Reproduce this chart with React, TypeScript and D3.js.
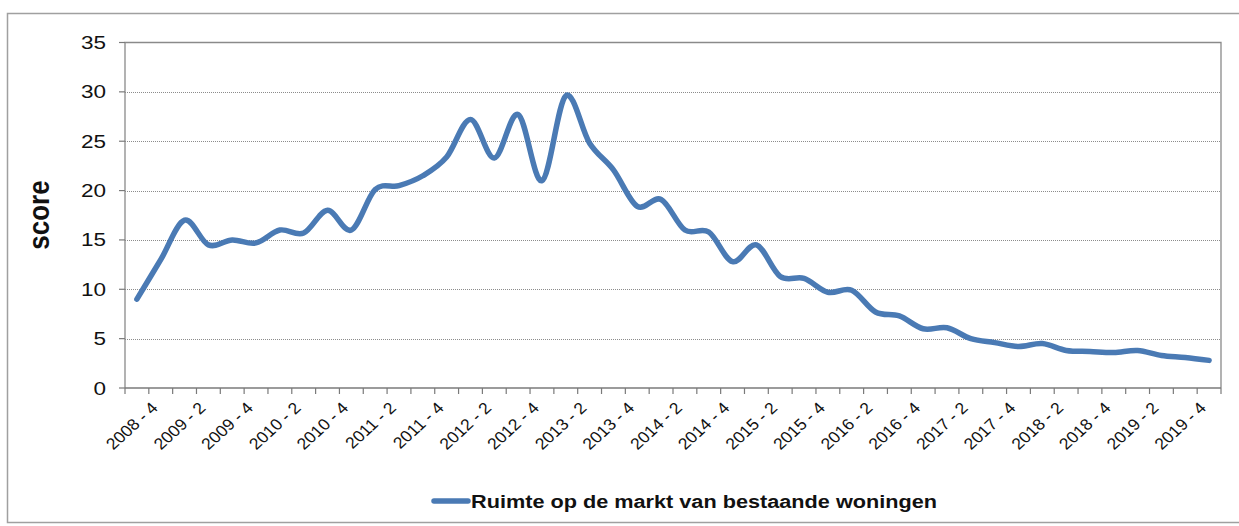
import * as d3 from 'd3';

const width = 1239;
const height = 526;
const plot = { left: 125, right: 1221, top: 42.5, bottom: 388 };

// quarters, 2008 Q4 .. 2020 Q1
const categories = [
  '2008 - 4',
  '2009 - 1', '2009 - 2', '2009 - 3', '2009 - 4',
  '2010 - 1', '2010 - 2', '2010 - 3', '2010 - 4',
  '2011 - 1', '2011 - 2', '2011 - 3', '2011 - 4',
  '2012 - 1', '2012 - 2', '2012 - 3', '2012 - 4',
  '2013 - 1', '2013 - 2', '2013 - 3', '2013 - 4',
  '2014 - 1', '2014 - 2', '2014 - 3', '2014 - 4',
  '2015 - 1', '2015 - 2', '2015 - 3', '2015 - 4',
  '2016 - 1', '2016 - 2', '2016 - 3', '2016 - 4',
  '2017 - 1', '2017 - 2', '2017 - 3', '2017 - 4',
  '2018 - 1', '2018 - 2', '2018 - 3', '2018 - 4',
  '2019 - 1', '2019 - 2', '2019 - 3', '2019 - 4',
  '2020 - 1',
];

const ruimte = [
  9.0, 13.0, 17.0, 14.5, 15.0, 14.7, 16.0, 15.7, 18.0, 16.0,
  20.1, 20.5, 21.5, 23.4, 27.2, 23.3, 27.7, 21.0, 29.6, 24.8,
  22.1, 18.4, 19.1, 16.0, 15.8, 12.8, 14.5, 11.3, 11.1, 9.7,
  9.9, 7.7, 7.3, 6.0, 6.1, 5.0, 4.6, 4.2, 4.5, 3.8,
  3.7, 3.6, 3.8, 3.3, 3.1, 2.8,
];

const yTicks = [0, 5, 10, 15, 20, 25, 30, 35];
const seriesName = 'Ruimte op de markt van bestaande woningen';
const yTitle = 'score';

const blue = '#4a7ab4';
const font = '"Liberation Sans", Arial, sans-serif';

export default function App() {
  const x = d3.scaleBand<string>().domain(categories).range([plot.left, plot.right]);
  const bw = x.bandwidth();
  const cx = (c: string) => (x(c) as number) + bw / 2;
  const y = d3.scaleLinear().domain([0, 35]).range([plot.bottom, plot.top]);

  const line = d3
    .line<number>()
    .x((_, i) => cx(categories[i]))
    .y((d) => y(d))
    .curve(d3.curveCardinal.tension(0));

  const boundaries = categories.map((c) => x(c) as number).concat([plot.right]);

  return (
    <svg
      width={width}
      height={height}
      style={{ position: 'absolute', left: 0, top: 0, background: '#fff' }}
      fontFamily={font}
    >
      <rect x={7.5} y={13.5} width={1240} height={509} fill="#fff" stroke="#a0a0a0" strokeWidth={1.5} />

      {/* gridlines */}
      {yTicks
        .filter((t) => t > 0 && t < 35)
        .map((t) => (
          <line
            key={t}
            x1={plot.left}
            x2={plot.right}
            y1={Math.round(y(t)) + 0.5}
            y2={Math.round(y(t)) + 0.5}
            stroke="#8c8c8c"
            strokeDasharray="1 1"
          />
        ))}

      {/* plot frame */}
      <path
        d={`M${plot.left},${plot.bottom}V${plot.top}H${plot.right}V${plot.bottom}`}
        fill="none"
        stroke="#8a8a8a"
        strokeWidth={1.3}
      />
      <line x1={plot.left} x2={plot.right} y1={plot.bottom} y2={plot.bottom} stroke="#7a7a7a" strokeWidth={1.3} />

      {/* y axis ticks + labels */}
      {yTicks.map((t) => (
        <g key={t}>
          <line x1={plot.left - 6} x2={plot.left} y1={y(t)} y2={y(t)} stroke="#7a7a7a" strokeWidth={1.2} />
          <text
            transform={`translate(106,${y(t) + 6.5}) scale(1.25,1)`}
            textAnchor="end"
            fontSize={18}
            fill="#111"
          >
            {t}
          </text>
        </g>
      ))}

      <text
        transform={`translate(49,215) scale(1.15,1) rotate(-90)`}
        textAnchor="middle"
        fontSize={26}
        fontWeight="bold"
        fill="#111"
      >
        {yTitle}
      </text>

      {/* x axis ticks */}
      {boundaries.map((b, i) => (
        <line key={i} x1={b} x2={b} y1={plot.bottom} y2={plot.bottom + 6} stroke="#7a7a7a" strokeWidth={1.2} />
      ))}

      {categories.map((c, i) =>
        i % 2 === 0 ? (
          <text
            key={c}
            transform={`translate(${cx(c) + 22},409) scale(1.1,1) rotate(-45)`}
            textAnchor="end"
            fontSize={16}
            fill="#111"
          >
            {c}
          </text>
        ) : null
      )}

      {/* series */}
      <path d={line(ruimte) ?? ''} fill="none" stroke={blue} strokeWidth={5.5} strokeLinecap="round" strokeLinejoin="round" />

      {/* legend */}
      <line x1={434} x2={468} y1={501} y2={501} stroke={blue} strokeWidth={5.5} strokeLinecap="round" />
      <text x={471} y={508} fontSize={18} fontWeight="bold" fill="#111" textLength={466} lengthAdjust="spacingAndGlyphs">
        {seriesName}
      </text>
    </svg>
  );
}
